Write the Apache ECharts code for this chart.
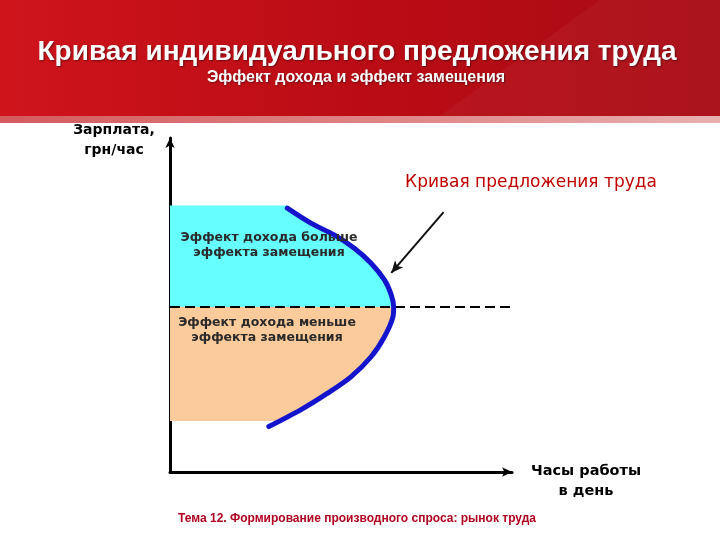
<!DOCTYPE html>
<html><head><meta charset="utf-8">
<script src="https://cdn.jsdelivr.net/npm/echarts@6/dist/echarts.min.js"></script>
<style>html,body{margin:0;padding:0;background:#fff}#c{width:720px;height:540px}</style>
</head><body><div id="c"></div>
<script>
// ---- texts ----
const titleText = 'Кривая индивидуального предложения труда';
const subtitleText = 'Эффект дохода и эффект замещения';
const yAxisName = ['Зарплата,', 'грн/час'];
const xAxisName = ['Часы работы', 'в день'];
const curveLabel = 'Кривая предложения труда';
const upperLabel = ['Эффект дохода больше', 'эффекта замещения'];
const lowerLabel = ['Эффект дохода меньше', 'эффекта замещения'];
const footerText = 'Тема 12. Формирование производного спроса: рынок труда';

// ---- data (hours on x, wage on y; arbitrary 0..100 units) ----
const curveX = [34.3, 41.2, 48.0, 53.9, 58.8, 62.7, 64.7, 65.4, 65.2, 62.7, 58.8, 52.9, 46.1, 38.2, 28.9];
const curveY = [79.0, 74.5, 71.0, 67.0, 62.5, 57.5, 53.0, 49.4, 46.5, 40.5, 34.5, 28.5, 23.6, 18.6, 13.6];
const apexIndex = 7;
const splitWage = 49.4;
const upperTop = 79.8;
const lowerBottom = [32.4, 15.3];
const dashEndX = 102;
const pointerFrom = [80.0, 77.8];
const pointerTo = [64.7, 59.6];

const curve = curveX.map((x, i) => [x, curveY[i]]);

function polySeries(pts, color) {
  return {
    type: 'custom', silent: true, z: 1,
    data: [0],
    renderItem: function (params, api) {
      return {
        type: 'polygon',
        shape: { points: pts.map(p => api.coord(p)) },
        style: { fill: color, stroke: null }
      };
    }
  };
}

const upperPoly = [[0, upperTop], [curveX[0], upperTop]].concat(curve.slice(0, apexIndex + 1)).concat([[0, splitWage]]);
const lowerPoly = [[0, splitWage]].concat(curve.slice(apexIndex, 14)).concat([lowerBottom, [0, lowerBottom[1]]]);

const chart = echarts.init(document.getElementById('c'), null, { renderer: 'canvas' });
const labelFont = '"DejaVu Sans", Verdana, sans-serif';
chart.setOption({
  animation: false,
  backgroundColor: '#ffffff',
  grid: { left: 170, right: 208, top: 138, bottom: 68 },
  xAxis: {
    type: 'value', min: 0, max: 100,
    axisLine: { show: true, onZero: false, symbol: ['none', 'arrow'], symbolSize: [7, 10], lineStyle: { color: '#000', width: 3 } },
    axisTick: { show: false }, axisLabel: { show: false }, splitLine: { show: false }
  },
  yAxis: {
    type: 'value', min: 0, max: 100,
    axisLine: { show: true, onZero: false, symbol: ['none', 'arrow'], symbolSize: [7, 10], lineStyle: { color: '#000', width: 3 } },
    axisTick: { show: false }, axisLabel: { show: false }, splitLine: { show: false }
  },
  series: [
    polySeries(upperPoly, '#66FFFF'),
    polySeries(lowerPoly, '#FCCB9C'),
    {
      type: 'line', z: 3, clip: false, symbol: 'none', silent: true,
      data: [[0, splitWage], [dashEndX, splitWage]],
      lineStyle: { color: '#000', width: 2, type: [10, 5] }
    },
    {
      type: 'line', z: 4, symbol: 'none', smooth: 0.3, silent: true,
      data: curve,
      lineStyle: { color: '#1414CC', width: 5, cap: 'round' }
    },
    {
      type: 'line', z: 5, data: [], silent: true,
      markLine: {
        silent: true, symbol: ['none', 'arrow'], symbolSize: [8, 12], animation: false,
        label: { show: false },
        lineStyle: { color: '#111', width: 2, type: 'solid' },
        data: [[{ coord: pointerFrom }, { coord: pointerTo }]]
      }
    }
  ],
  graphic: [
    { type: 'rect', z: -10, shape: { x: 0, y: 0, width: 720, height: 116 },
      style: { fill: new echarts.graphic.LinearGradient(0, 0, 1, 0, [
        { offset: 0, color: '#cf141c' }, { offset: 0.5, color: '#bb0c15' }, { offset: 1, color: '#a80b14' }]) } },
    { type: 'polygon', z: -9, shape: { points: [[600, 0], [720, 0], [720, 116], [440, 116]] },
      style: { fill: 'rgba(255,255,255,0.04)' } },
    { type: 'rect', z: -10, shape: { x: 0, y: 116, width: 720, height: 7 },
      style: { fill: new echarts.graphic.LinearGradient(0, 0, 1, 0, [
        { offset: 0, color: '#d45a5c' }, { offset: 0.6, color: '#e08a8b' }, { offset: 1, color: '#e9b0b0' }]) } },
    { type: 'text', z: 10, style: { text: titleText, x: 357, y: 52, textAlign: 'center', textVerticalAlign: 'middle',
      font: 'bold 28px "Liberation Sans", Arial, sans-serif', fill: '#ffffff',
      textShadowColor: 'rgba(0,0,0,0.45)', textShadowBlur: 2, textShadowOffsetX: 1, textShadowOffsetY: 1 } },
    { type: 'text', z: 10, style: { text: subtitleText, x: 356, y: 78, textAlign: 'center', textVerticalAlign: 'middle',
      font: 'bold 16px "Liberation Sans", Arial, sans-serif', fill: '#ffffff',
      textShadowColor: 'rgba(0,0,0,0.4)', textShadowBlur: 2, textShadowOffsetX: 1, textShadowOffsetY: 1 } },
    { type: 'text', z: 10, style: { text: yAxisName.join('\n'), x: 114, y: 140, textAlign: 'center', textVerticalAlign: 'middle',
      font: 'bold 14px ' + labelFont, lineHeight: 20, fill: '#000' } },
    { type: 'text', z: 10, style: { text: xAxisName.join('\n'), x: 586, y: 481, textAlign: 'center', textVerticalAlign: 'middle',
      font: 'bold 14.5px ' + labelFont, lineHeight: 20, fill: '#000' } },
    { type: 'text', z: 10, style: { text: curveLabel, x: 531, y: 183, textAlign: 'center', textVerticalAlign: 'middle',
      font: '17px ' + labelFont, fill: '#C00000' } },
    { type: 'text', z: 10, style: { text: upperLabel.join('\n'), x: 269, y: 245, textAlign: 'center', textVerticalAlign: 'middle',
      font: 'bold 12.5px ' + labelFont, lineHeight: 15, fill: '#2a2a2a' } },
    { type: 'text', z: 10, style: { text: lowerLabel.join('\n'), x: 267, y: 330, textAlign: 'center', textVerticalAlign: 'middle',
      font: 'bold 12.5px ' + labelFont, lineHeight: 15, fill: '#2a2a2a' } },
    { type: 'text', z: 10, style: { text: footerText, x: 178, y: 519, textAlign: 'left', textVerticalAlign: 'middle',
      font: 'bold 12px "Liberation Sans", Arial, sans-serif', fill: '#B0001E' } }
  ]
});
</script>
</body></html>
